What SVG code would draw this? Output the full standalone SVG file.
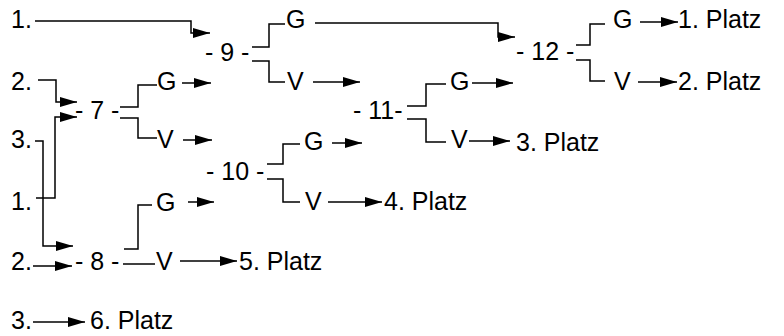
<svg xmlns="http://www.w3.org/2000/svg" width="784" height="336" viewBox="0 0 784 336">
<defs>
<style>
text{font-family:"Liberation Sans",Arial,sans-serif;font-size:25px;fill:#000}
.c{fill:none;stroke:#000;stroke-width:1.5}
.a{marker-end:url(#ah)}
</style>
<marker id="ah" markerUnits="userSpaceOnUse" markerWidth="17" markerHeight="10" refX="17" refY="5" orient="auto" viewBox="0 0 17 10">
<path d="M0,0 L17,5 L0,10 z" fill="#000"/>
</marker>
</defs>
<rect width="784" height="336" fill="#fff"/>
<g id="connectors">
<polyline class="c a" points="35,21 191,21 191,33 210,33"/>
<polyline class="c a" points="38,80 56,80 56,102 77,102"/>
<polyline class="c a" points="36,198 55,198 55,117 77,117"/>
<polyline class="c a" points="35,141 43,141 43,246 73,246"/>
<polyline class="c a" points="33,266 72,266"/>
<polyline class="c a" points="33,322 85,322"/>
<polyline class="c" points="120,107 138,107 138,85 157,85"/>
<polyline class="c" points="120,118 138,118 138,138 157,138"/>
<polyline class="c a" points="182,83 211,83"/>
<polyline class="c a" points="183,140 212,140"/>
<polyline class="c" points="252,47 269,47 269,24 285,24"/>
<polyline class="c" points="252,61 269,61 269,82 285,82"/>
<polyline class="c a" points="315,23 498,23 498,37 515,37"/>
<polyline class="c a" points="313,82 360,82"/>
<polyline class="c" points="267,164 283,164 283,144 300,144"/>
<polyline class="c" points="267,179 283,179 283,202 300,202"/>
<polyline class="c a" points="332,143 362,143"/>
<polyline class="c a" points="328,202 382,202"/>
<polyline class="c" points="407,106 426,106 426,84 446,84"/>
<polyline class="c" points="407,119 426,119 426,142 446,142"/>
<polyline class="c a" points="472,83 513,83"/>
<polyline class="c a" points="469,141 510,141"/>
<polyline class="c" points="576,45 590,45 590,24 605,24"/>
<polyline class="c" points="576,60 590,60 590,81 605,81"/>
<polyline class="c a" points="640,22 678,22"/>
<polyline class="c a" points="638,82 677,82"/>
<polyline class="c" points="124,249 138,249 138,205 152,205"/>
<polyline class="c" points="123,264 155,264"/>
<polyline class="c a" points="188,202 214,202"/>
<polyline class="c a" points="180,261 237,261"/>
</g>
<g id="teams">
<text x="11" y="28">1.</text>
<text x="11" y="90">2.</text>
<text x="11" y="148">3.</text>
<text x="11" y="210">1.</text>
<text x="11" y="270">2.</text>
<text x="11" y="329">3.</text>
</g>
<g id="m7"><text x="75" y="119">- 7 -</text><text x="157" y="90">G</text><text x="157" y="148">V</text></g>
<g id="m8"><text x="75" y="270">- 8 -</text><text x="156" y="211">G</text><text x="156" y="270">V</text></g>
<g id="m9"><text x="205" y="61">- 9 -</text><text x="286" y="28">G</text><text x="287" y="90">V</text></g>
<g id="m10"><text x="206" y="180">- 10 -</text><text x="304" y="150">G</text><text x="305" y="210">V</text></g>
<g id="m11"><text x="353" y="119">- 11-</text><text x="450" y="90">G</text><text x="451" y="148">V</text></g>
<g id="m12"><text x="516" y="60">- 12 -</text><text x="613" y="28">G</text><text x="614" y="90">V</text></g>
<g id="places">
<text x="678" y="28">1. Platz</text>
<text x="678" y="90">2. Platz</text>
<text x="516" y="151">3. Platz</text>
<text x="384" y="210">4. Platz</text>
<text x="239" y="270">5. Platz</text>
<text x="90" y="329">6. Platz</text>
</g>
</svg>
